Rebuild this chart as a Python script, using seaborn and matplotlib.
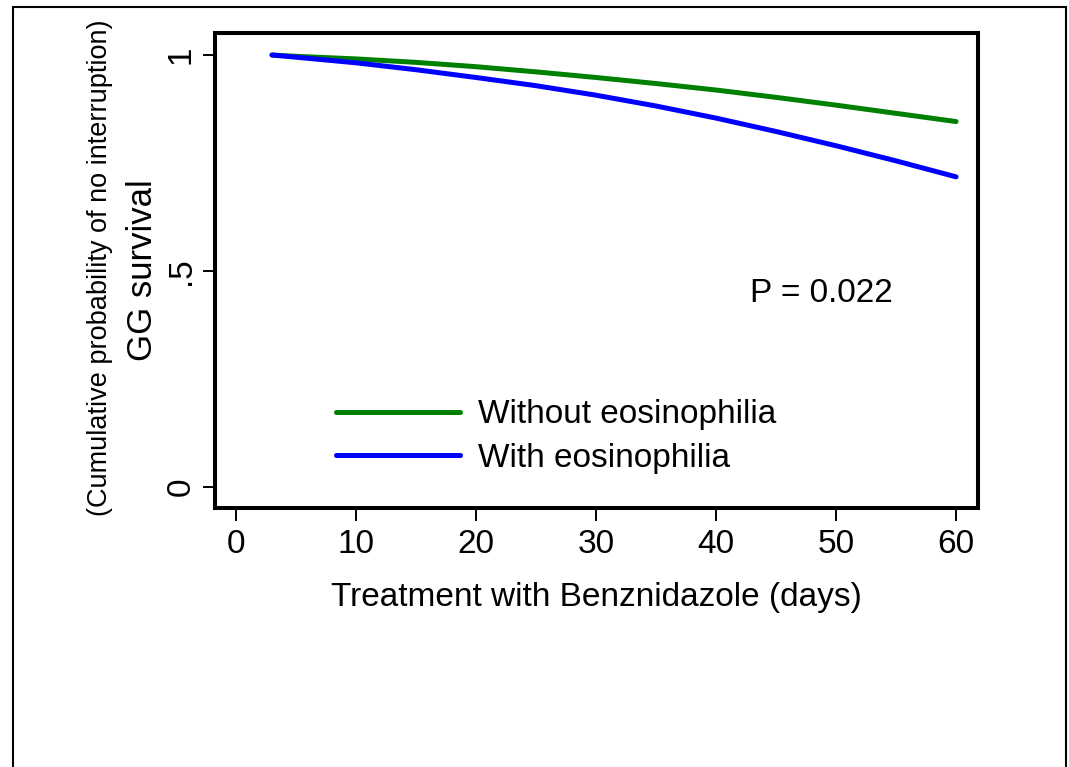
import numpy as np
import pandas as pd
import matplotlib
matplotlib.use('Agg')
import matplotlib.pyplot as plt
from matplotlib.patches import Rectangle
import seaborn as sns

# Données
days = [3, 5, 10, 15, 20, 25, 30, 35, 40, 45, 50, 55, 60]
surv_without = [1.000, 0.997, 0.991, 0.983, 0.973, 0.961, 0.948,
                0.934, 0.919, 0.902, 0.884, 0.865, 0.846]
surv_with = [1.000, 0.995, 0.982, 0.966, 0.948, 0.929, 0.907,
             0.882, 0.854, 0.823, 0.790, 0.755, 0.718]
groups = ['Without eosinophilia', 'With eosinophilia']
colors = {'Without eosinophilia': '#008000', 'With eosinophilia': '#0000FF'}
x_ticks = [0, 10, 20, 30, 40, 50, 60]
y_ticks = [0, 0.5, 1]
y_ticklabels = ['0', '.5', '1']
p_text = 'P = 0.022'

df = pd.concat([
    pd.DataFrame({'day': days, 'surv': surv_without, 'group': groups[0]}),
    pd.DataFrame({'day': days, 'surv': surv_with, 'group': groups[1]}),
])

sns.set_theme(style='white')
plt.rcParams['font.family'] = ['Liberation Sans', 'DejaVu Sans']
plt.rcParams['text.color'] = 'black'

fig = plt.figure(figsize=(10.69, 7.67), dpi=100)
ax = fig.add_axes([215 / 1069, 1 - 508 / 767, (978 - 215) / 1069, (508 - 33) / 767])

sns.lineplot(data=df, x='day', y='surv', hue='group', hue_order=groups,
             palette=colors, linewidth=3.6, ax=ax, estimator=None,
             solid_capstyle='round', solid_joinstyle='round')

ax.set_xlim(-1.75, 61.83)
ax.set_ylim(-0.0486, 1.051)
ax.set_xticks(x_ticks)
ax.set_xticklabels([str(t) for t in x_ticks])
ax.set_yticks(y_ticks)
ax.set_yticklabels(y_ticklabels, rotation=90, va='center')
ax.tick_params(axis='x', direction='out', length=9, width=1.4,
               color='black', labelsize=24, labelcolor='black', pad=6,
               bottom=True)
ax.tick_params(axis='y', direction='out', length=9, width=1.4,
               color='black', labelsize=24, labelcolor='black', pad=4,
               left=True)
for sp in ax.spines.values():
    sp.set_linewidth(2.9)
    sp.set_color('black')

ax.set_xlabel('Treatment with Benznidazole (days)', fontsize=24,
              color='black', labelpad=16)
ax.set_ylabel('')
fig.text(143 / 1069, 1 - 270 / 767, 'GG survival', rotation=90,
         fontsize=25, ha='center', va='center')
fig.text(100 / 1069, 1 - 268 / 767,
         '(Cumulative probability of no interruption)', rotation=90,
         fontsize=19.5, ha='center', va='center')

ax.text(42.8, 0.447, p_text, fontsize=24, ha='left', va='center')

leg = ax.legend(loc='center left', bbox_to_anchor=(0.1586, 0.150),
                frameon=False, fontsize=24, handlelength=3.72,
                handletextpad=0.54, labelspacing=0.38, borderpad=0,
                borderaxespad=0)
for line in leg.get_lines():
    line.set_linewidth(3.6)

fig.patches.append(Rectangle((13 / 1069, -0.1), (1066 - 13) / 1069,
                             1.1 - 7 / 767, transform=fig.transFigure,
                             fill=False, edgecolor='black', linewidth=1.5))

fig.savefig('out.png', dpi=100)
